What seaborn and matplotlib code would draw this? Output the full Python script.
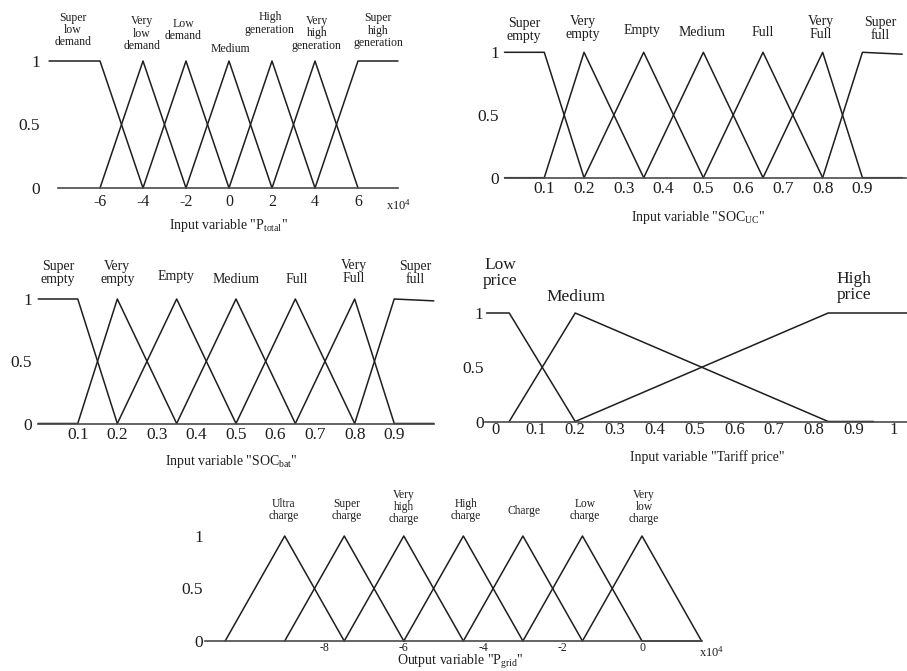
import matplotlib
matplotlib.use("Agg")
import matplotlib.pyplot as plt
import pandas as pd
import seaborn as sns

# ---------------- membership functions ----------------
# Input "P_total" (x10^4)
ptotal_terms = ["Super\nlow\ndemand", "Very\nlow\ndemand", "Low\ndemand", "Medium",
                "High\ngeneration", "Very\nhigh\ngeneration", "Super\nhigh\ngeneration"]
ptotal_x = [[-8.37, -6, -4], [-6, -4, -2], [-4, -2, 0], [-2, 0, 2],
            [0, 2, 4], [2, 4, 6], [4, 6, 7.86]]
ptotal_mu = [[1, 1, 0], [0, 1, 0], [0, 1, 0], [0, 1, 0],
             [0, 1, 0], [0, 1, 0], [0, 1, 1]]
ptotal_ticks = [-6, -4, -2, 0, 2, 4, 6]

# Input "SOC_UC"
socuc_terms = ["Super\nempty", "Very\nempty", "Empty", "Medium", "Full", "Very\nFull", "Super\nfull"]
socuc_x = [[0, 0.1, 0.2], [0, 0.1, 0.2, 0.35], [0.2, 0.35, 0.5], [0.35, 0.5, 0.65],
           [0.5, 0.65, 0.8], [0.65, 0.8, 0.9, 1.0], [0.8, 0.9, 1.0]]
socuc_mu = [[1, 1, 0], [0, 0, 1, 0], [0, 1, 0], [0, 1, 0],
            [0, 1, 0], [0, 1, 0, 0], [0, 1, 0.985]]

# Input "SOC_bat"
socbat_terms = ["Super\nempty", "Very\nempty", "Empty", "Medium", "Full", "Very\nFull", "Super\nfull"]
socbat_x = [[0, 0.1, 0.2], [0, 0.1, 0.2, 0.35], [0.2, 0.35, 0.5], [0.35, 0.5, 0.65],
            [0.5, 0.65, 0.8], [0.65, 0.8, 0.9, 1.0], [0.8, 0.9, 1.0]]
socbat_mu = [[1, 1, 0], [0, 0, 1, 0], [0, 1, 0], [0, 1, 0],
             [0, 1, 0], [0, 1, 0, 0], [0, 1, 0.985]]

soc_ticks = [0.1, 0.2, 0.3, 0.4, 0.5, 0.6, 0.7, 0.8, 0.9]

# Input "Tariff price"
tariff_terms = ["Low\nprice", "Medium", "High\nprice"]
tariff_x = [[-0.023, 0.034, 0.2], [0.034, 0.2, 0.836, 0.95], [0.2, 0.836, 1.034]]
tariff_mu = [[1, 1, 0], [0, 1, 0, 0], [0, 1, 1]]
tariff_ticks = [0, 0.1, 0.2, 0.3, 0.4, 0.5, 0.6, 0.7, 0.8, 0.9, 1]

# Output "P_grid" (x10^4)
pgrid_terms = ["Ultra\ncharge", "Super\ncharge", "Very\nhigh\ncharge", "High\ncharge",
               "Charge", "Low\ncharge", "Very\nlow\ncharge"]
pgrid_x = [[-10.5, -9, -7.5], [-9, -7.5, -6], [-7.5, -6, -4.5], [-6, -4.5, -3],
           [-4.5, -3, -1.5], [-3, -1.5, 0, 1.5], [-1.5, 0, 1.5]]
pgrid_mu = [[0, 1, 0], [0, 1, 0], [0, 1, 0], [0, 1, 0],
            [0, 1, 0], [0, 1, 0, 0], [0, 1, 0]]
pgrid_ticks = [-8, -6, -4, -2, 0]

# ---------------- style ----------------
sns.set_theme(style="white")
plt.rcParams["font.family"] = ["Liberation Serif", "DejaVu Serif"]
plt.rcParams["mathtext.fontset"] = "custom"
plt.rcParams["mathtext.rm"] = "Liberation Serif"
plt.rcParams["mathtext.it"] = "Liberation Serif:italic"
plt.rcParams["mathtext.bf"] = "Liberation Serif:bold"

W, H = 907, 671
INK = "#1e1e1e"
fig = plt.figure(figsize=(W / 100, H / 100), dpi=100)
fig.patch.set_facecolor("white")


def fig_xy(px, py):
    return px / W, 1 - py / H


def frame(x0px, ppu, y1px, y0px, xlim, base=None):
    left = x0px + xlim[0] * ppu
    width = (xlim[1] - xlim[0]) * ppu
    ax = fig.add_axes([left / W, 1 - y0px / H, width / W, (y0px - y1px) / H])
    ax.set_facecolor("none")
    for s in ("top", "right", "left"):
        ax.spines[s].set_visible(False)
    ax.spines["bottom"].set_color("#4a4a4a")
    ax.spines["bottom"].set_linewidth(1.2)
    if base is not None:
        ax.spines["bottom"].set_bounds(*base)
    return ax


def draw_terms(ax, names, xs, mus, xlim):
    rows = [(n, x, m) for n, xx, mm in zip(names, xs, mus) for x, m in zip(xx, mm)]
    df = pd.DataFrame(rows, columns=["term", "x", "mu"])
    sns.lineplot(data=df, x="x", y="mu", units="term", estimator=None, sort=False,
                 color=INK, linewidth=1.1, ax=ax, legend=False)
    for ln in ax.lines:
        ln.set_clip_on(False)
    ax.set_xlim(*xlim)
    ax.set_ylim(0, 1)
    ax.set_xlabel("")
    ax.set_ylabel("")


def y_axis(ax, pad, size=12.5):
    ax.set_yticks([0, 0.5, 1], ["0", "0.5", "1"])
    ax.tick_params(axis="y", length=0, pad=pad, labelsize=size, labelcolor=INK)


def x_axis(ax, ticks, labels, pad, size, tick_len=0):
    ax.set_xticks(ticks, labels)
    ax.tick_params(axis="x", direction="in", length=tick_len, width=0.8,
                   color="#4a4a4a", pad=pad, labelsize=size, labelcolor=INK)


def term_labels(ax, names, xy, size):
    for n, (x, y) in zip(names, xy):
        ax.text(x, y, n, ha="center", va="center", fontsize=size,
                linespacing=1.05, color=INK)


def fig_label(px, py, s, size=10):
    fx, fy = fig_xy(px, py)
    fig.text(fx, fy, s, ha="center", va="center", fontsize=size, color=INK)


# ---- P_total ----
ax1 = frame(229, 21.5, 61, 188, (-8.37, 7.86), base=(-7.95, 7.86))
draw_terms(ax1, ptotal_terms, ptotal_x, ptotal_mu, (-8.37, 7.86))
y_axis(ax1, pad=6.5)
x_axis(ax1, ptotal_ticks, [str(t) for t in ptotal_ticks], pad=4, size=11.5)
term_labels(ax1, ptotal_terms,
            [(-7.26, 1.244), (-4.05, 1.213), (-2.14, 1.246), (0.05, 1.094),
             (1.9, 1.294), (4.09, 1.22), (6.93, 1.239)], 8.5)
fig_label(399, 205, r"x10$^{4}$", 9)
fig_label(228, 225, r'Input variable "P$_{\mathrm{total}}$"', 10)

# ---- SOC_UC ----
ax2 = frame(504.5, 397.7, 52.3, 177.7, (0, 1.01))
draw_terms(ax2, socuc_terms, socuc_x, socuc_mu, (0, 1.01))
y_axis(ax2, pad=4)
x_axis(ax2, soc_ticks, [f"{t:g}" for t in soc_ticks], pad=2.5, size=12.5, tick_len=3)
term_labels(ax2, socuc_terms,
            [(0.049, 1.178), (0.197, 1.194), (0.346, 1.17), (0.497, 1.154),
             (0.65, 1.16), (0.796, 1.194), (0.944, 1.186)], 10)
fig_label(698, 217, r'Input variable "SOC$_{\mathrm{UC}}$"', 10)

# ---- SOC_bat ----
ax3 = frame(38.2, 395.6, 299, 423.5, (0, 1.0))
draw_terms(ax3, socbat_terms, socbat_x, socbat_mu, (0, 1.0))
y_axis(ax3, pad=4.5)
x_axis(ax3, soc_ticks, [f"{t:g}" for t in soc_ticks], pad=2.5, size=12.5, tick_len=3)
term_labels(ax3, socbat_terms,
            [(0.05, 1.21), (0.2, 1.21), (0.348, 1.177), (0.5, 1.16),
             (0.654, 1.16), (0.798, 1.217), (0.952, 1.21)], 10)
fig_label(231, 461, r'Input variable "SOC$_{\mathrm{bat}}$"', 10)

# ---- Tariff price ----
ax4 = frame(495.7, 397.7, 313, 421.5, (-0.027, 1.034))
draw_terms(ax4, tariff_terms, tariff_x, tariff_mu, (-0.027, 1.034))
y_axis(ax4, pad=1)
x_axis(ax4, tariff_ticks, [f"{t:g}" for t in tariff_ticks], pad=0.5, size=12, tick_len=3)
term_labels(ax4, tariff_terms, [(0.011, 1.37), (0.202, 1.147), (0.9, 1.24)], 12.5)
fig_label(707, 457, 'Input variable "Tariff price"', 10)

# ---- P_grid ----
ax5 = frame(642, 39.7, 536, 641, (-11.0, 1.5))
draw_terms(ax5, pgrid_terms, pgrid_x, pgrid_mu, (-11.0, 1.5))
y_axis(ax5, pad=1.5)
x_axis(ax5, pgrid_ticks, [str(t) for t in pgrid_ticks], pad=1, size=8.5)
term_labels(ax5, pgrid_terms,
            [(-9.03, 1.248), (-7.43, 1.248), (-6.0, 1.276), (-4.44, 1.248),
             (-2.96, 1.238), (-1.43, 1.248), (0.05, 1.276)], 8.3)
fig_label(712, 652, r"x10$^{4}$", 9)
fig_label(460, 662, r'Output variable "P$_{\mathrm{grid}}$"', 10)

fig.savefig("out.png", dpi=100, facecolor="white")
